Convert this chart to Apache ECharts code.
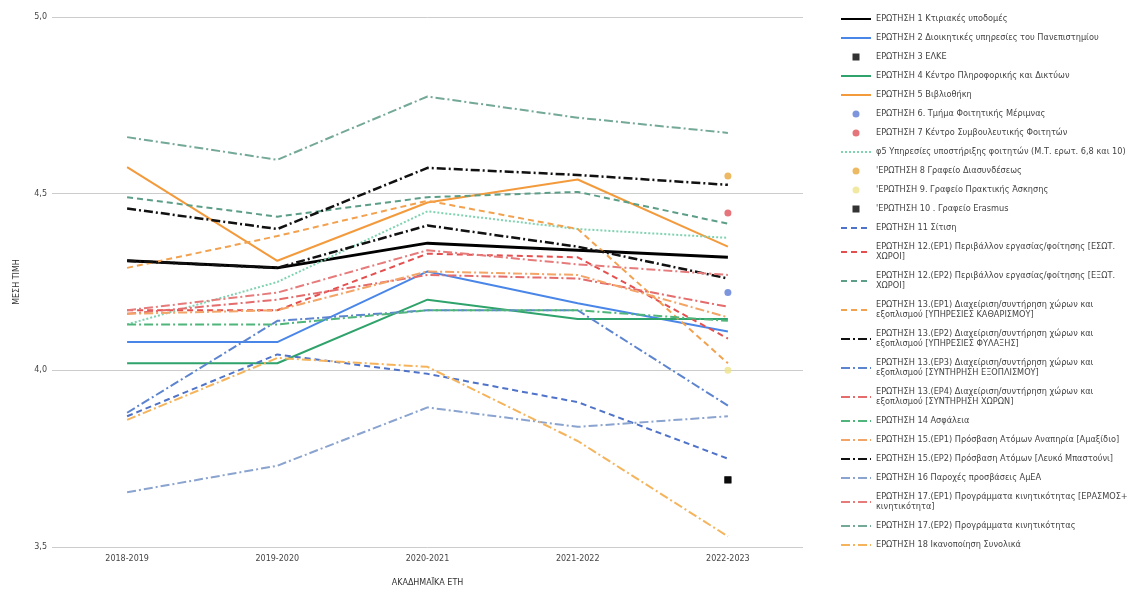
<!DOCTYPE html>
<html>
<head>
<meta charset="utf-8">
<script src="https://cdn.jsdelivr.net/npm/echarts@6/dist/echarts.min.js"></script>
<style>
html,body{margin:0;padding:0;background:#fff;}
#chart{width:1141px;height:592px;}
</style>
</head>
<body>
<div id="chart"></div>
<script>
// ---- DATA ----
const categories = ["2018-2019", "2019-2020", "2020-2021", "2021-2022", "2022-2023"];
const yTicks = [3.5, 4.0, 4.5, 5.0];

const names = [
  "ΕΡΩΤΗΣΗ 1 Κτιριακές υποδομές",
  "ΕΡΩΤΗΣΗ 2 Διοικητικές υπηρεσίες του Πανεπιστημίου",
  "ΕΡΩΤΗΣΗ 3 ΕΛΚΕ",
  "ΕΡΩΤΗΣΗ 4 Κέντρο Πληροφορικής και Δικτύων",
  "ΕΡΩΤΗΣΗ 5 Βιβλιοθήκη",
  "ΕΡΩΤΗΣΗ 6. Τμήμα Φοιτητικής Μέριμνας",
  "ΕΡΩΤΗΣΗ 7 Κέντρο Συμβουλευτικής Φοιτητών",
  "φ5 Υπηρεσίες υποστήριξης φοιτητών (Μ.Τ. ερωτ. 6,8 και 10)",
  "'ΕΡΩΤΗΣΗ 8 Γραφείο Διασυνδέσεως",
  "'ΕΡΩΤΗΣΗ 9. Γραφείο Πρακτικής Άσκησης",
  "'ΕΡΩΤΗΣΗ 10 . Γραφείο Erasmus",
  "ΕΡΩΤΗΣΗ 11 Σίτιση",
  "ΕΡΩΤΗΣΗ 12.(ΕΡ1) Περιβάλλον εργασίας/φοίτησης [ΕΣΩΤ.\nΧΩΡΟΙ]",
  "ΕΡΩΤΗΣΗ 12.(ΕΡ2) Περιβάλλον εργασίας/φοίτησης [ΕΞΩΤ.\nΧΩΡΟΙ]",
  "ΕΡΩΤΗΣΗ 13.(ΕΡ1) Διαχείριση/συντήρηση χώρων και\nεξοπλισμού [ΥΠΗΡΕΣΙΕΣ ΚΑΘΑΡΙΣΜΟΥ]",
  "ΕΡΩΤΗΣΗ 13.(ΕΡ2) Διαχείριση/συντήρηση χώρων και\nεξοπλισμού [ΥΠΗΡΕΣΙΕΣ ΦΥΛΑΞΗΣ]",
  "ΕΡΩΤΗΣΗ 13.(ΕΡ3) Διαχείριση/συντήρηση χώρων και\nεξοπλισμού [ΣΥΝΤΗΡΗΣΗ ΕΞΟΠΛΙΣΜΟΥ]",
  "ΕΡΩΤΗΣΗ 13.(ΕΡ4) Διαχείριση/συντήρηση χώρων και\nεξοπλισμού [ΣΥΝΤΗΡΗΣΗ ΧΩΡΩΝ]",
  "ΕΡΩΤΗΣΗ 14 Ασφάλεια",
  "ΕΡΩΤΗΣΗ 15.(ΕΡ1) Πρόσβαση Ατόμων Αναπηρία [Αμαξίδιο]",
  "ΕΡΩΤΗΣΗ 15.(ΕΡ2) Πρόσβαση Ατόμων [Λευκό Μπαστούνι]",
  "ΕΡΩΤΗΣΗ 16 Παροχές προσβάσεις ΑμΕΑ",
  "ΕΡΩΤΗΣΗ 17.(ΕΡ1) Προγράμματα κινητικότητας [ΕΡΑΣΜΟΣ+\nκινητικότητα]",
  "ΕΡΩΤΗΣΗ 17.(ΕΡ2) Προγράμματα κινητικότητας",
  "ΕΡΩΤΗΣΗ 18 Ικανοποίηση Συνολικά"
];

const q1   = [4.31, 4.29, 4.36, 4.34, 4.32];
const q2   = [4.08, 4.08, 4.28, 4.19, 4.11];
const q3   = [null, null, null, null, 3.69];
const q4   = [4.02, 4.02, 4.20, 4.145, 4.145];
const q5   = [4.575, 4.31, 4.475, 4.54, 4.35];
const q6   = [null, null, null, null, 4.22];
const q7   = [null, null, null, null, 4.445];
const phi5 = [4.13, 4.25, 4.45, 4.40, 4.375];
const q8   = [null, null, null, null, 4.55];
const q9   = [null, null, null, null, 4.00];
const q10  = [null, null, null, null, 3.69];
const q11  = [3.87, 4.045, 3.99, 3.91, 3.75];
const q12a = [4.17, 4.17, 4.33, 4.32, 4.09];
const q12b = [4.49, 4.435, 4.49, 4.505, 4.415];
const q13a = [4.29, 4.38, 4.48, 4.40, 4.02];
const q13b = [4.31, 4.29, 4.41, 4.35, 4.26];
const q13c = [3.88, 4.14, 4.17, 4.17, 3.90];
const q13d = [4.16, 4.20, 4.27, 4.26, 4.18];
const q14  = [4.13, 4.13, 4.17, 4.17, 4.14];
const q15a = [4.16, 4.17, 4.28, 4.27, 4.15];
const q15b = [4.458, 4.40, 4.573, 4.553, 4.525];
const q16  = [3.655, 3.73, 3.895, 3.84, 3.87];
const q17a = [4.17, 4.22, 4.34, 4.30, 4.27];
const q17b = [4.66, 4.596, 4.775, 4.715, 4.672];
const q18  = [3.86, 4.035, 4.01, 3.80, 3.53];

const seriesValues = [q1,q2,q3,q4,q5,q6,q7,phi5,q8,q9,q10,q11,q12a,q12b,q13a,q13b,q13c,q13d,q14,q15a,q15b,q16,q17a,q17b,q18];

// ---- STYLES ----
const FONT = 'DejaVu Sans, Verdana, sans-serif';
const DD = [9, 3, 2, 3];   // long dash - dot
const SQ = 'path://M0 0H10V10H0Z';
const styles = [
  {kind:'line', color:'#000000', width:3, type:'solid'},
  {kind:'line', color:'#4a86e8', width:2, type:'solid'},
  {kind:'pt', color:'#000000', symbol:SQ},
  {kind:'line', color:'#2fa36b', width:2, type:'solid'},
  {kind:'line', color:'#f39a3c', width:2, type:'solid'},
  {kind:'pt', color:'#5b7bd5', symbol:'circle'},
  {kind:'pt', color:'#e0525a', symbol:'circle'},
  {kind:'line', color:'#7fd3b0', width:2, type:[2,2]},
  {kind:'pt', color:'#e9a93c', symbol:'circle'},
  {kind:'pt', color:'#eee38a', symbol:'circle'},
  {kind:'pt', color:'#000000', symbol:SQ},
  {kind:'line', color:'#4f73c9', width:2, type:[6,4]},
  {kind:'line', color:'#e3504f', width:2, type:[6,4]},
  {kind:'line', color:'#5c9e86', width:2, type:[6,4]},
  {kind:'line', color:'#f2a14e', width:2, type:[6,4]},
  {kind:'line', color:'#111111', width:2.5, type:DD},
  {kind:'line', color:'#5d84cf', width:2, type:DD},
  {kind:'line', color:'#e46c6c', width:2, type:DD},
  {kind:'line', color:'#4fb57a', width:2, type:DD},
  {kind:'line', color:'#f3a467', width:2, type:DD},
  {kind:'line', color:'#111111', width:2.5, type:DD},
  {kind:'line', color:'#8aa3cf', width:2, type:DD},
  {kind:'line', color:'#e67b7b', width:2, type:DD},
  {kind:'line', color:'#74a898', width:2, type:DD},
  {kind:'line', color:'#f5b45c', width:2, type:DD}
];

const series = names.map((n, i) => {
  const s = styles[i];
  if (s.kind === 'pt') {
    return {
      name: n, type: 'scatter', data: seriesValues[i],
      symbol: s.symbol, symbolSize: 7, symbolKeepAspect: true,
      itemStyle: {color: s.color}
    };
  }
  return {
    name: n, type: 'line', data: seriesValues[i],
    symbol: 'none', showSymbol: false, connectNulls: false,
    lineStyle: {color: s.color, width: s.width, type: s.type},
    itemStyle: {color: s.color}
  };
});

const legendData = names.map((n, i) =>
  styles[i].kind === 'line' ? {name: n, itemStyle: {opacity: 0}} : {name: n}
);

const chart = echarts.init(document.getElementById('chart'), null, {renderer: 'canvas'});
chart.setOption({
  animation: false,
  backgroundColor: '#ffffff',
  textStyle: {fontFamily: FONT},
  grid: {left: 52, right: 338, top: 17, bottom: 44, containLabel: false},
  legend: {
    orient: 'vertical',
    left: 835,
    top: 9,
    itemWidth: 30,
    itemHeight: 7,
    itemGap: 9,
    symbolKeepAspect: true,
    textStyle: {fontSize: 8.2, color: '#444', lineHeight: 10, fontFamily: FONT},
    data: legendData
  },
  xAxis: {
    type: 'category',
    data: categories,
    boundaryGap: true,
    name: 'ΑΚΑΔΗΜΑΪΚΑ ΕΤΗ',
    nameLocation: 'middle',
    nameGap: 32,
    nameTextStyle: {fontSize: 8, color: '#333', fontFamily: FONT},
    axisLine: {show: false},
    axisTick: {show: false},
    axisLabel: {fontSize: 8, color: '#444', margin: 8, fontFamily: FONT}
  },
  yAxis: {
    type: 'value',
    min: yTicks[0],
    max: yTicks[yTicks.length - 1],
    interval: 0.5,
    name: 'ΜΕΣΗ ΤΙΜΗ',
    nameLocation: 'middle',
    nameGap: 31,
    nameTextStyle: {fontSize: 8, color: '#333', fontFamily: FONT},
    axisLine: {show: false},
    axisTick: {show: false},
    axisLabel: {fontSize: 8, color: '#444', margin: 5, fontFamily: FONT,
      formatter: v => v.toFixed(1).replace('.', ',')},
    splitLine: {lineStyle: {color: '#cccccc', width: 1}}
  },
  series: series
});
</script>
</body>
</html>
